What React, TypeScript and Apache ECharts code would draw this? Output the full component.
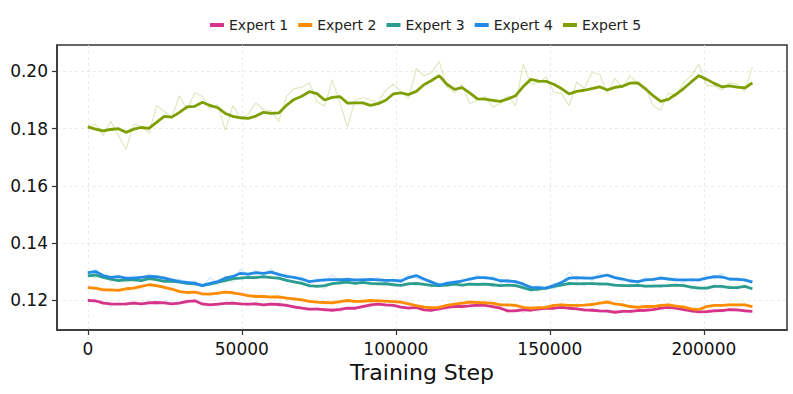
import React, { useEffect, useRef } from "react";
import * as echarts from "echarts";

const STEPS = [
  0, 2480, 4960, 7440, 9920, 12400, 14880, 17360, 19840, 22320, 24800, 27280, 29760, 32240, 34720, 37200,
  39680, 42160, 44640, 47120, 49600, 52080, 54560, 57040, 59520, 62000, 64480, 66960, 69440, 71920, 74400,
  76880, 79360, 81840, 84320, 86800, 89280, 91760, 94240, 96720, 99200, 101680, 104160, 106640, 109120,
  111600, 114080, 116560, 119040, 121520, 124000, 126480, 128960, 131440, 133920, 136400, 138880, 141360,
  143840, 146320, 148800, 151280, 153760, 156240, 158720, 161200, 163680, 166160, 168640, 171120, 173600,
  176080, 178560, 181040, 183520, 186000, 188480, 190960, 193440, 195920, 198400, 200880, 203360, 205840,
  208320, 210800, 213280, 215760,
];

const EXPERT_NAMES = ["Expert 1", "Expert 2", "Expert 3", "Expert 4", "Expert 5"];
const COLORS = ["#d6338a", "#ff8c00", "#2a9d8f", "#228be6", "#7f9f00"];

const X_TICKS = [0, 50000, 100000, 150000, 200000];
const Y_TICKS = [0.12, 0.14, 0.16, 0.18, 0.2];

const E1_RAW = [
  0.1204, 0.1195, 0.1198, 0.118, 0.1192, 0.1182, 0.1196, 0.1184, 0.1198, 0.1186,
  0.1197, 0.1184, 0.1195, 0.119, 0.1204, 0.1182, 0.119, 0.118, 0.1195, 0.1186,
  0.1192, 0.1182, 0.1193, 0.118, 0.1192, 0.118, 0.1188, 0.1172, 0.1178, 0.1164,
  0.1176, 0.1162, 0.1172, 0.116, 0.1176, 0.1168, 0.1184, 0.1178, 0.1192, 0.118,
  0.1188, 0.1172, 0.1178, 0.117, 0.1172, 0.116, 0.1176, 0.117, 0.1184, 0.1174,
  0.1186, 0.1178, 0.1188, 0.1174, 0.1178, 0.1158, 0.117, 0.1158, 0.1172, 0.1162,
  0.1178, 0.1168, 0.118, 0.1168, 0.1176, 0.1162, 0.1172, 0.1158, 0.1168, 0.1154,
  0.1166, 0.1156, 0.117, 0.116, 0.1172, 0.1166, 0.118, 0.1168, 0.1176, 0.1158,
  0.1164, 0.1156, 0.117, 0.116, 0.1172, 0.1162, 0.117, 0.116,
];
const E1_SMOOTH = [
  0.12, 0.1199, 0.1191, 0.1188, 0.1187, 0.1188, 0.1191, 0.1188, 0.1192, 0.1193,
  0.1192, 0.1188, 0.1191, 0.1197, 0.1199, 0.1188, 0.1185, 0.1187, 0.119, 0.1191,
  0.1188, 0.1187, 0.1188, 0.1185, 0.1187, 0.1186, 0.1183, 0.1178, 0.1173, 0.117,
  0.117, 0.1168, 0.1166, 0.1169, 0.1173, 0.1173, 0.1179, 0.1185, 0.1187, 0.1185,
  0.1183, 0.1177, 0.1173, 0.1176, 0.1167, 0.1166, 0.1171, 0.1176, 0.1179, 0.1179,
  0.1181, 0.1184, 0.1183, 0.1179, 0.1173, 0.1164, 0.1164, 0.1168, 0.1166, 0.1171,
  0.1173, 0.1173, 0.1176, 0.1173, 0.1171, 0.1167, 0.1166, 0.1164, 0.1163, 0.1159,
  0.1162, 0.1162, 0.1165, 0.1166, 0.1168, 0.1173, 0.1176, 0.1173, 0.1168, 0.1164,
  0.116, 0.1161, 0.1164, 0.1165, 0.1168, 0.1167, 0.1164, 0.1162,
];

const E2_RAW = [
  0.125, 0.1238, 0.1244, 0.1232, 0.1241, 0.123, 0.1247, 0.124, 0.126, 0.1248,
  0.1252, 0.1236, 0.1236, 0.1224, 0.1234, 0.1218, 0.1228, 0.122, 0.1234, 0.1222,
  0.1226, 0.1212, 0.122, 0.1208, 0.1218, 0.1207, 0.1214, 0.12, 0.1208, 0.1192,
  0.12, 0.1188, 0.1198, 0.119, 0.1206, 0.1192, 0.1203, 0.1194, 0.1206, 0.1192,
  0.1202, 0.1188, 0.1194, 0.1178, 0.1182, 0.117, 0.1182, 0.1176, 0.119, 0.1182,
  0.12, 0.1188, 0.1198, 0.1185, 0.119, 0.1178, 0.1188, 0.117, 0.1178, 0.1168,
  0.1182, 0.1178, 0.119, 0.1178, 0.1188, 0.118, 0.1192, 0.1186, 0.12, 0.1184,
  0.119, 0.1174, 0.1182, 0.1172, 0.1184, 0.1174, 0.119, 0.1176, 0.1184, 0.1166,
  0.1172, 0.1164, 0.1184, 0.1178, 0.119, 0.118, 0.119, 0.1176,
];
const E2_SMOOTH = [
  0.1245, 0.1243, 0.1237, 0.1237, 0.1235, 0.1241, 0.1243, 0.1249, 0.1255, 0.1252,
  0.1246, 0.124, 0.1231, 0.1228, 0.1229, 0.1223, 0.1222, 0.1226, 0.1229, 0.1227,
  0.1222, 0.1217, 0.1214, 0.1214, 0.1212, 0.1213, 0.1208, 0.1206, 0.1202, 0.1197,
  0.1194, 0.1193, 0.1192, 0.1196, 0.12, 0.1197, 0.1197, 0.12, 0.1199, 0.1198,
  0.1196, 0.1194, 0.1188, 0.1182, 0.1177, 0.1175, 0.1176, 0.1183, 0.1187, 0.1191,
  0.1194, 0.1193, 0.1192, 0.1191, 0.1185, 0.1185, 0.1183, 0.1176, 0.1173, 0.1175,
  0.1176, 0.1183, 0.1185, 0.1183, 0.1183, 0.1184, 0.1186, 0.1191, 0.1194, 0.1188,
  0.1185, 0.1179, 0.1176, 0.1179, 0.1179, 0.1183, 0.1185, 0.118, 0.1177, 0.1171,
  0.1168, 0.1179, 0.1183, 0.1183, 0.1185, 0.1185, 0.1185, 0.1179,
];

const E3_RAW = [
  0.129, 0.128, 0.1288, 0.1268, 0.1276, 0.1262, 0.128, 0.1266, 0.1283, 0.1268,
  0.1275, 0.126, 0.1272, 0.1255, 0.1266, 0.1248, 0.1262, 0.1254, 0.1275, 0.1265,
  0.1284, 0.1274, 0.129, 0.1276, 0.1286, 0.1272, 0.1278, 0.1262, 0.1268, 0.1245,
  0.1256, 0.1242, 0.1264, 0.1255, 0.127, 0.1256, 0.1268, 0.1254, 0.1263, 0.125,
  0.1262, 0.1248, 0.1264, 0.1252, 0.1262, 0.1246, 0.1258, 0.1248, 0.1262, 0.1249,
  0.1263, 0.125, 0.1262, 0.1248, 0.1258, 0.1246, 0.1258, 0.124, 0.1243, 0.1232,
  0.1248, 0.124, 0.1258, 0.1252, 0.1266, 0.1252, 0.1264, 0.1252, 0.1263, 0.1248,
  0.1258, 0.1246, 0.1259, 0.1244, 0.1256, 0.1245, 0.1258, 0.1248, 0.1259, 0.124,
  0.1248, 0.1238, 0.1255, 0.1242, 0.1252, 0.124, 0.1254, 0.1236,
];
const E3_SMOOTH = [
  0.1286, 0.1289, 0.1281, 0.1275, 0.1269, 0.1272, 0.1272, 0.1269, 0.1276, 0.1273,
  0.1267, 0.1268, 0.1264, 0.126, 0.1258, 0.1253, 0.1257, 0.1264, 0.1269, 0.1276,
  0.1278, 0.1281, 0.128, 0.1283, 0.128, 0.1278, 0.127, 0.1265, 0.126, 0.1252,
  0.1249, 0.1252, 0.1259, 0.1262, 0.1264, 0.126, 0.1263, 0.126, 0.1258, 0.1259,
  0.1255, 0.1253, 0.1258, 0.126, 0.1256, 0.1253, 0.1252, 0.1254, 0.1257, 0.1254,
  0.1257, 0.1256, 0.1257, 0.1255, 0.1252, 0.1254, 0.1252, 0.1245, 0.1237, 0.124,
  0.1243, 0.1249, 0.1254, 0.126, 0.1258, 0.1259, 0.1259, 0.1258, 0.1257, 0.1254,
  0.1252, 0.1252, 0.1253, 0.125, 0.125, 0.1251, 0.1252, 0.1254, 0.1252, 0.1247,
  0.1243, 0.1243, 0.1249, 0.1249, 0.1245, 0.1245, 0.1249, 0.1241,
];

const E4_RAW = [
  0.1292, 0.131, 0.1283, 0.1276, 0.129, 0.1272, 0.1286, 0.127, 0.1295, 0.1278,
  0.1285, 0.1266, 0.1274, 0.1258, 0.1268, 0.1248, 0.128, 0.1259, 0.1285, 0.1276,
  0.1309, 0.1286, 0.1303, 0.1288, 0.131, 0.1284, 0.1292, 0.1275, 0.1282, 0.126,
  0.1276, 0.1266, 0.129, 0.1268, 0.128, 0.1265, 0.1279, 0.1268, 0.1282, 0.1262,
  0.1276, 0.1262, 0.129, 0.128, 0.1268, 0.127, 0.1248, 0.1266, 0.1258, 0.1276,
  0.1268, 0.129, 0.1274, 0.1284, 0.1262, 0.1274, 0.126, 0.1264, 0.124, 0.1252,
  0.1238, 0.126, 0.1256, 0.13, 0.1272, 0.1288, 0.127, 0.1296, 0.1282, 0.1278,
  0.1268, 0.1276, 0.126, 0.128, 0.1266, 0.1286, 0.127, 0.128, 0.1264, 0.1278,
  0.1266, 0.1288, 0.1275, 0.1296, 0.1268, 0.1282, 0.1266, 0.127,
];
const E4_SMOOTH = [
  0.1297, 0.1301, 0.1287, 0.1281, 0.1283, 0.1278, 0.1278, 0.1281, 0.1284, 0.1283,
  0.1278, 0.1272, 0.1266, 0.1263, 0.126, 0.1252, 0.126, 0.1266, 0.1278, 0.1284,
  0.1295, 0.1292, 0.1297, 0.1295, 0.1299, 0.1291, 0.1284, 0.1281, 0.1275, 0.1266,
  0.1269, 0.1272, 0.1273, 0.1273, 0.1274, 0.1272, 0.1272, 0.1274, 0.1272, 0.127,
  0.127, 0.1268, 0.128, 0.1287, 0.1275, 0.1264, 0.1254, 0.126, 0.1264, 0.1268,
  0.1275, 0.128, 0.128, 0.1276, 0.1269, 0.1268, 0.1266, 0.1257, 0.1246, 0.1245,
  0.1243, 0.1252, 0.1263, 0.1278, 0.128, 0.1278, 0.1278, 0.1283, 0.1289, 0.128,
  0.1275, 0.1268, 0.1266, 0.1272, 0.1274, 0.1278, 0.1275, 0.1272, 0.1272, 0.1272,
  0.1272, 0.1278, 0.1283, 0.1282, 0.1275, 0.1274, 0.1272, 0.1264,
];

const E5_RAW = [
  0.1805, 0.1816, 0.1776, 0.1826, 0.1778, 0.1728, 0.1815, 0.1808, 0.1784, 0.188,
  0.186, 0.184, 0.1915, 0.1865, 0.1925, 0.1912, 0.187, 0.1885, 0.1794, 0.1881,
  0.1835, 0.185, 0.189, 0.1866, 0.1862, 0.1825, 0.1912, 0.194, 0.1944, 0.196,
  0.1895, 0.1878, 0.197, 0.189, 0.1806, 0.19, 0.1908, 0.19, 0.189, 0.1935,
  0.1955, 0.193, 0.1905, 0.201, 0.1985, 0.1995, 0.2035, 0.1945, 0.1925, 0.1955,
  0.1887, 0.19, 0.1912, 0.1875, 0.1888, 0.1915, 0.188, 0.2025, 0.1955, 0.196,
  0.198, 0.1928, 0.1922, 0.188, 0.1963, 0.194, 0.1995, 0.199, 0.1925, 0.1975,
  0.1945, 0.1985, 0.1955, 0.1945, 0.188, 0.1865, 0.1925, 0.1915, 0.196, 0.1985,
  0.2025, 0.195, 0.195, 0.1935, 0.196, 0.1955, 0.193, 0.2015,
];
const E5_SMOOTH = [
  0.1806, 0.1798, 0.1792, 0.1797, 0.18, 0.1787, 0.1798, 0.1804, 0.1801, 0.1822,
  0.1843, 0.184, 0.1857, 0.1876, 0.1878, 0.1892, 0.1881, 0.1873, 0.1853, 0.1843,
  0.1838, 0.1836, 0.1844, 0.1857, 0.1853, 0.1855, 0.1881, 0.1902, 0.1913, 0.1929,
  0.1922, 0.19, 0.1909, 0.1912, 0.1889, 0.189, 0.189, 0.1881, 0.1887, 0.1899,
  0.1921, 0.1925, 0.1919, 0.193, 0.1953, 0.1968, 0.1985, 0.1955, 0.1937, 0.1943,
  0.1925, 0.1904, 0.1903, 0.1899, 0.1895, 0.1904, 0.1915, 0.1947, 0.1972, 0.1966,
  0.1965, 0.1955, 0.194, 0.1921, 0.193, 0.1934, 0.194, 0.1946, 0.1935, 0.1944,
  0.1948, 0.1959, 0.196, 0.1939, 0.1915, 0.1895, 0.1902, 0.192, 0.194, 0.1963,
  0.1985, 0.1972, 0.1958, 0.1946, 0.1949, 0.1945, 0.1942, 0.196,
];

const RAW = [E1_RAW, E2_RAW, E3_RAW, E4_RAW, E5_RAW];
const SMOOTH = [E1_SMOOTH, E2_SMOOTH, E3_SMOOTH, E4_SMOOTH, E5_SMOOTH];

const FONT = "DejaVu Sans";

export default function App() {
  const ref = useRef<HTMLDivElement>(null);
  useEffect(() => {
    document.body.style.margin = "0";
    const chart = echarts.init(ref.current!, null, { renderer: "svg" });
    const pair = (ys: number[]) => STEPS.map((x, i) => [x, ys[i]]);
    const series: any[] = [];
    EXPERT_NAMES.forEach((name, i) => {
      series.push({
        name: name + " (raw)",
        type: "line",
        data: pair(RAW[i]),
        showSymbol: false,
        silent: true,
        z: 1,
        lineStyle: { color: COLORS[i], width: 1.2, opacity: i === 4 ? 0.24 : 0.2 },
        itemStyle: { color: COLORS[i] },
      });
    });
    EXPERT_NAMES.forEach((name, i) => {
      series.push({
        name,
        type: "line",
        data: pair(SMOOTH[i]),
        showSymbol: false,
        z: 3 + i,
        lineStyle: { color: COLORS[i], width: 2.8 },
        itemStyle: { color: COLORS[i] },
      });
    });
    chart.setOption({
      animation: false,
      backgroundColor: "#ffffff",
      textStyle: { fontFamily: FONT },
      legend: {
        data: EXPERT_NAMES,
        top: 13,
        left: 205,
        icon: "rect",
        itemWidth: 14,
        itemHeight: 4,
        itemGap: 10,
        textStyle: { fontFamily: FONT, fontSize: 14, color: "#222" },
      },
      grid: {
        left: 57,
        top: 45,
        width: 730,
        height: 285,
        show: true,
        borderColor: "#333",
        borderWidth: 1.5,
        backgroundColor: "transparent",
      },
      xAxis: {
        type: "value",
        min: -10000,
        max: 227000,
        name: "Training Step",
        nameLocation: "middle",
        nameGap: 30,
        nameTextStyle: { fontFamily: FONT, fontSize: 22, color: "#111" },
        axisLine: { show: true, onZero: false, lineStyle: { color: "#333", width: 1.5 } },
        axisTick: { show: true, length: 5, lineStyle: { color: "#333", width: 1.2 }, customValues: X_TICKS },
        axisLabel: {
          customValues: X_TICKS,
          fontFamily: FONT,
          fontSize: 17,
          color: "#111",
          margin: 10,
          formatter: (v: number) => String(Math.round(v)),
        },
        splitLine: { show: true, lineStyle: { color: "#e4e4e4", width: 0.8, type: [3, 3] } },
      },
      yAxis: {
        type: "value",
        min: 0.1097,
        max: 0.2092,
        axisLine: { show: true, onZero: false, lineStyle: { color: "#333", width: 1.5 } },
        axisTick: { show: true, length: 5, lineStyle: { color: "#333", width: 1.2 }, customValues: Y_TICKS },
        axisLabel: {
          customValues: Y_TICKS,
          fontFamily: FONT,
          fontSize: 17,
          color: "#111",
          margin: 9,
          formatter: (v: number) => v.toFixed(2),
        },
        splitLine: { show: true, lineStyle: { color: "#e4e4e4", width: 0.8, type: [3, 3] } },
      },
      series,
    });
    return () => chart.dispose();
  }, []);
  return <div ref={ref} style={{ width: 793, height: 394 }} />;
}
